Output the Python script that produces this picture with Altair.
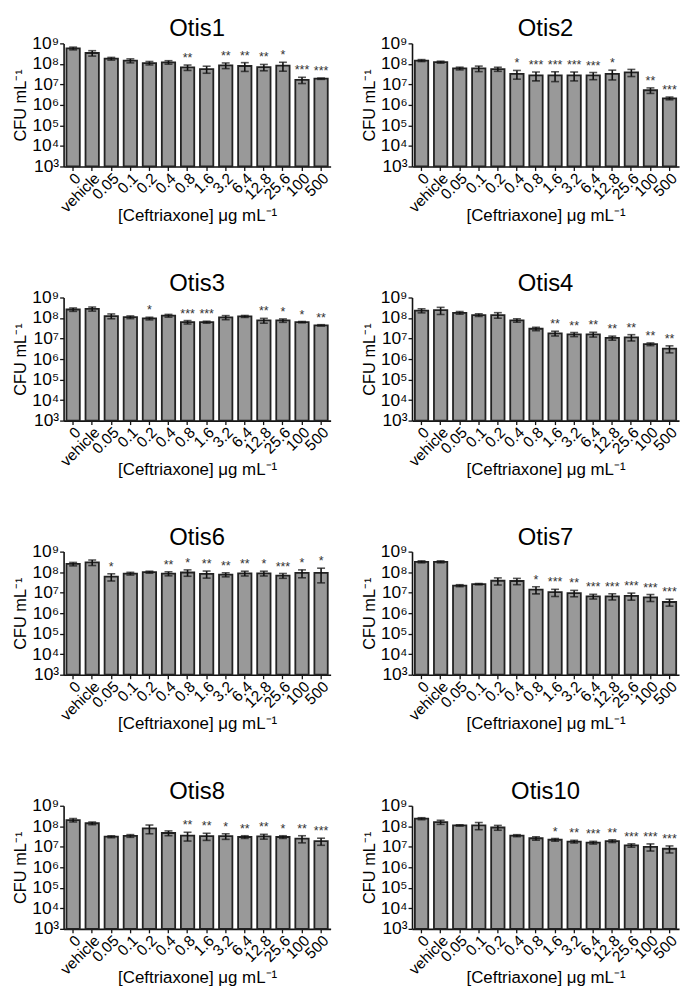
import altair as alt
import pandas as pd

FONT = "Liberation Sans"

conc = ["0", "vehicle", "0.05", "0.1", "0.2", "0.4", "0.8", "1.6", "3.2",
        "6.4", "12.8", "25.6", "100", "500"]
y_ticks = [1e3, 1e4, 1e5, 1e6, 1e7, 1e8, 1e9]

otis1_mean = [5.7e8, 3.4e8, 1.8e8, 1.44e8, 1.1e8, 1.2e8, 6.8e7, 5.6e7, 8.5e7, 7.9e7, 7.0e7, 8.2e7, 1.66e7, 1.9e7]
otis1_sem = [8.6e7, 1.0e8, 2.7e7, 3.2e7, 2.1e7, 2.3e7, 2.0e7, 2.1e7, 2.6e7, 3.6e7, 2.4e7, 3.8e7, 5.6e6, 1.4e6]
otis1_sig = ["", "", "", "", "", "", "**", "", "**", "**", "**", "*", "***", "***"]

otis2_mean = [1.46e8, 1.22e8, 6.0e7, 6.0e7, 5.6e7, 3.3e7, 2.75e7, 2.75e7, 2.75e7, 2.75e7, 3.3e7, 3.9e7, 5.2e6, 2.1e6]
otis2_sem = [1.6e7, 1.35e7, 9.0e6, 1.8e7, 1.26e7, 1.5e7, 1.27e7, 1.38e7, 1.27e7, 1.05e7, 1.65e7, 1.48e7, 1.56e6, 3.2e5]
otis2_sig = ["", "", "", "", "", "*", "***", "***", "***", "***", "*", "", "**", "***"]

otis3_mean = [2.6e8, 2.8e8, 1.25e8, 1.1e8, 9.5e7, 1.3e8, 6.3e7, 6.3e7, 1.07e8, 1.2e8, 7.6e7, 7.6e7, 6.3e7, 4.4e7]
otis3_sem = [4.9e7, 6.3e7, 3.3e7, 1.65e7, 1.4e7, 2.0e7, 1.2e7, 7.0e6, 2.4e7, 1.3e7, 2.0e7, 1.44e7, 4.7e6, 3.3e6]
otis3_sig = ["", "", "", "", "*", "", "***", "***", "", "", "**", "*", "*", "**"]

otis4_mean = [2.3e8, 2.4e8, 1.8e8, 1.4e8, 1.4e8, 7.7e7, 3.0e7, 1.8e7, 1.6e7, 1.6e7, 1.07e7, 1.15e7, 5.3e6, 3.2e6]
otis4_sem = [5.2e7, 9.1e7, 2.7e7, 2.1e7, 4.2e7, 1.46e7, 5.7e6, 4.7e6, 3.6e6, 4.2e6, 2.4e6, 3.9e6, 8.0e5, 1.2e6]
otis4_sig = ["", "", "", "", "", "", "", "**", "**", "**", "**", "**", "**", "**"]

otis6_mean = [2.5e8, 3.0e8, 6.0e7, 8.5e7, 1.0e8, 8.5e7, 9.6e7, 8.2e7, 7.6e7, 8.8e7, 8.8e7, 6.8e7, 9.1e7, 9.3e7]
otis6_sem = [4.75e7, 9.0e7, 2.3e7, 1.3e7, 1.1e7, 1.9e7, 3.3e7, 3.1e7, 1.7e7, 2.3e7, 2.3e7, 1.8e7, 3.8e7, 6.3e7]
otis6_sig = ["", "", "*", "", "", "**", "*", "**", "**", "**", "*", "***", "*", "*"]

otis7_mean = [3.2e8, 3.2e8, 2.2e7, 2.6e7, 3.8e7, 3.7e7, 1.4e7, 1.05e7, 9.6e6, 6.6e6, 6.6e6, 6.9e6, 5.9e6, 3.5e6]
otis7_sem = [3.6e7, 3.6e7, 2.4e6, 1.9e6, 1.44e7, 1.26e7, 5.3e6, 4.0e6, 3.3e6, 1.7e6, 2.2e6, 2.6e6, 2.2e6, 1.3e6]
otis7_sig = ["", "", "", "", "", "", "*", "***", "**", "***", "***", "***", "***", "***"]

otis8_mean = [2.0e8, 1.4e8, 3.1e7, 3.4e7, 7.9e7, 4.7e7, 3.5e7, 3.3e7, 3.3e7, 3.0e7, 3.2e7, 3.0e7, 2.5e7, 1.9e7]
otis8_sem = [3.8e7, 2.1e7, 3.4e6, 5.1e6, 3.6e7, 1.24e7, 1.6e7, 1.25e7, 1.0e7, 4.5e6, 8.4e6, 4.5e6, 9.5e6, 7.2e6]
otis8_sig = ["", "", "", "", "", "", "**", "**", "*", "**", "**", "*", "**", "***"]

otis10_mean = [2.35e8, 1.6e8, 1.1e8, 1.1e8, 8.7e7, 3.5e7, 2.6e7, 2.2e7, 1.8e7, 1.6e7, 1.9e7, 1.17e7, 1.0e7, 8.0e6]
otis10_sem = [2.6e7, 3.6e7, 8.0e6, 4.2e7, 2.3e7, 3.9e6, 4.9e6, 3.3e6, 2.7e6, 2.4e6, 2.9e6, 2.2e6, 3.8e6, 3.0e6]
otis10_sig = ["", "", "", "", "", "", "", "*", "**", "***", "**", "***", "***", "***"]

panels = [
    ("Otis1", otis1_mean, otis1_sem, otis1_sig),
    ("Otis2", otis2_mean, otis2_sem, otis2_sig),
    ("Otis3", otis3_mean, otis3_sem, otis3_sig),
    ("Otis4", otis4_mean, otis4_sem, otis4_sig),
    ("Otis6", otis6_mean, otis6_sem, otis6_sig),
    ("Otis7", otis7_mean, otis7_sem, otis7_sig),
    ("Otis8", otis8_mean, otis8_sem, otis8_sig),
    ("Otis10", otis10_mean, otis10_sem, otis10_sig),
]

W, H = 269, 124
SUP = "['⁰','¹','²','³','⁴','⁵','⁶','⁷','⁸','⁹']"
AX = dict(grid=False, domainColor="#111111", tickColor="#111111", domainWidth=1.6,
          tickWidth=1.3, labelColor="black", titleColor="black", labelFont=FONT,
          titleFont=FONT, titleFontWeight="normal")

x_axis = alt.Axis(title="[Ceftriaxone] μg mL⁻¹", labelAngle=-45,
                  labelAlign="right", labelBaseline="top",
                  labelOverlap=False, labelFontSize=15.5,
                  labelPadding=0, tickSize=4, titleY=54,
                  titleBaseline="alphabetic", titleFontSize=17, **AX)
y_axis = alt.Axis(title="CFU mL⁻¹", values=y_ticks,
                  labelExpr="'10' + " + SUP + "[round(log(datum.value)/LN10)]",
                  labelFontSize=17.5, tickSize=4, labelPadding=1,
                  titlePadding=3, titleFontSize=16.5, **AX)
yscale = alt.Scale(type="log", domain=[1e3, 1e9], nice=False)


def make_panel(name, mean, sem, sig):
    df = pd.DataFrame({
        "conc": conc,
        "mean": mean,
        "lo": [m - s for m, s in zip(mean, sem)],
        "hi": [m + s for m, s in zip(mean, sem)],
        "sig": sig,
    })
    x = alt.X("conc:N", sort=conc,
              scale=alt.Scale(paddingInner=0.3, paddingOuter=0.15), axis=x_axis)
    base = alt.Chart(df)
    bars = base.mark_bar(color="#999999", stroke="#222222", strokeWidth=1.8).encode(
        x=x, y=alt.Y("mean:Q", scale=yscale, axis=y_axis), y2=alt.datum(1e3))
    rule = base.mark_rule(color="#111111", strokeWidth=1.6).encode(
        x=x, y=alt.Y("lo:Q", scale=yscale, axis=y_axis), y2="hi:Q")
    cap_hi = base.mark_tick(color="#111111", thickness=1.6, size=8).encode(
        x=x, y=alt.Y("hi:Q", scale=yscale, axis=y_axis))
    cap_lo = base.mark_tick(color="#111111", thickness=1.6, size=8).encode(
        x=x, y=alt.Y("lo:Q", scale=yscale, axis=y_axis))
    stars = base.mark_text(fontSize=12.5, color="#333333", baseline="bottom",
                           font=FONT).encode(
        x=x, y=alt.Y("hi:Q", scale=yscale, axis=y_axis), text="sig:N")
    return alt.layer(bars, rule, cap_hi, cap_lo, stars).properties(
        width=W, height=H,
        title=alt.TitleParams(name, fontSize=24, font=FONT, fontWeight="normal",
                              anchor="middle", offset=-7, color="black"))


charts = [make_panel(*p) for p in panels]
rows = [alt.hconcat(charts[i], charts[i + 1], spacing=30) for i in range(0, 8, 2)]
chart = alt.vconcat(*rows, spacing=49, background="white").configure_view(stroke=None)

chart.save("out.html", embed_options={"renderer": "svg", "actions": False})
